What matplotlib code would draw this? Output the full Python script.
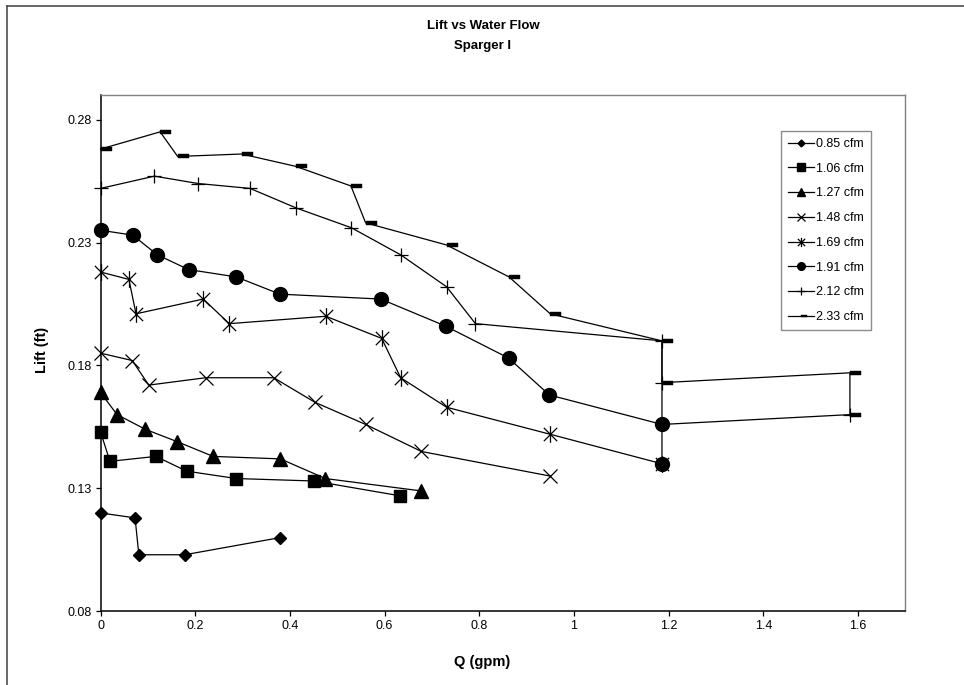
import matplotlib
matplotlib.use("Agg")
import matplotlib.pyplot as plt
from matplotlib.path import Path
from matplotlib.lines import Line2D
import numpy as np

plt.rcParams['font.family'] = ['Liberation Sans', 'DejaVu Sans']

# ---- data ----
q_085 = [0, 0.073, 0.081, 0.178, 0.380]
lift_085 = [0.120, 0.118, 0.103, 0.103, 0.110]

q_106 = [0, 0.020, 0.117, 0.182, 0.287, 0.451, 0.632]
lift_106 = [0.153, 0.141, 0.143, 0.137, 0.134, 0.133, 0.127]

q_127 = [0, 0.035, 0.095, 0.162, 0.238, 0.380, 0.475, 0.676]
lift_127 = [0.169, 0.160, 0.154, 0.149, 0.143, 0.142, 0.134, 0.129]

q_148 = [0, 0.067, 0.102, 0.222, 0.366, 0.453, 0.560, 0.678, 0.950]
lift_148 = [0.185, 0.182, 0.172, 0.175, 0.175, 0.165, 0.156, 0.145, 0.135]

q_169 = [0, 0.060, 0.075, 0.217, 0.272, 0.476, 0.594, 0.634, 0.731, 0.950, 1.186]
lift_169 = [0.218, 0.215, 0.201, 0.207, 0.197, 0.200, 0.191, 0.175, 0.163, 0.152, 0.140]

q_191 = [0, 0.068, 0.120, 0.186, 0.287, 0.379, 0.592, 0.729, 0.862, 0.948, 1.186, 1.186]
lift_191 = [0.235, 0.233, 0.225, 0.219, 0.216, 0.209, 0.207, 0.196, 0.183, 0.168, 0.156, 0.140]

q_212 = [0, 0.114, 0.206, 0.316, 0.414, 0.530, 0.634, 0.731, 0.792, 1.186, 1.186, 1.186, 1.583]
lift_212 = [0.252, 0.257, 0.254, 0.252, 0.244, 0.236, 0.225, 0.212, 0.197, 0.190, 0.173, 0.156, 0.160]

q_233 = [0, 0.126, 0.163, 0.298, 0.412, 0.529, 0.560, 0.731, 0.863, 0.950, 1.186, 1.186, 1.583, 1.583]
lift_233 = [0.268, 0.275, 0.265, 0.266, 0.261, 0.253, 0.238, 0.229, 0.216, 0.201, 0.190, 0.173, 0.177, 0.160]

labels = ['0.85 cfm', '1.06 cfm', '1.27 cfm', '1.48 cfm', '1.69 cfm', '1.91 cfm', '2.12 cfm', '2.33 cfm']
x_ticks = [0, 0.2, 0.4, 0.6, 0.8, 1.0, 1.2, 1.4, 1.6]
x_tick_labels = ['0', '0.2', '0.4', '0.6', '0.8', '1', '1.2', '1.4', '1.6']
y_ticks = [0.08, 0.13, 0.18, 0.23, 0.28]
y_tick_labels = ['0.08', '0.13', '0.18', '0.23', '0.28']

# ---- custom markers ----
asterisk = Path([(-1, -1), (1, 1), (-1, 1), (1, -1), (0, -1.25), (0, 1.25)],
                [Path.MOVETO, Path.LINETO, Path.MOVETO, Path.LINETO, Path.MOVETO, Path.LINETO])
dash = Path([(0, -0.15), (1, -0.15), (1, 0.15), (0, 0.15), (0, -0.15)],
            [Path.MOVETO, Path.LINETO, Path.LINETO, Path.LINETO, Path.CLOSEPOLY])

fig = plt.figure(figsize=(9.64, 6.85), dpi=100)
ax = fig.add_axes([100.5/964, 1-611.3/685, (905.3-100.5)/964, (611.3-95)/685])

lw = 0.9
series = [
    (q_085, lift_085, dict(marker='D', ms=6.3)),
    (q_106, lift_106, dict(marker='s', ms=9.3)),
    (q_127, lift_127, dict(marker='^', ms=9.5)),
    (q_148, lift_148, dict(marker='x', ms=10, mew=0.9)),
    (q_169, lift_169, dict(marker=asterisk, ms=12, mew=0.9, mfc='none')),
    (q_191, lift_191, dict(marker='o', ms=10)),
    (q_212, lift_212, dict(marker='+', ms=10, mew=0.9)),
    (q_233, lift_233, dict(marker=dash, ms=15.4, mew=0.3)),
]
handles = []
for (q, l, st), lab in zip(series, labels):
    h, = ax.plot(q, l, color='black', lw=lw, mec='black',
                 mfc=st.pop('mfc', 'black'), label=lab, clip_on=False, **st)
    handles.append(h)

ax.set_xlim(0, 1.7)
ax.set_ylim(0.08, 0.29)
ax.set_xticks(x_ticks)
ax.set_xticklabels(x_tick_labels)
ax.set_yticks(y_ticks)
ax.set_yticklabels(y_tick_labels)
ax.tick_params(direction='out', length=3.5, width=0.9, labelsize=9, colors='black', pad=3)
for s in ['left', 'bottom']:
    ax.spines[s].set_color('black')
    ax.spines[s].set_linewidth(1.1)
for s in ['top', 'right']:
    ax.spines[s].set_color('#808080')
    ax.spines[s].set_linewidth(1.0)

leg = ax.legend(handles=handles, loc='upper left',
                bbox_to_anchor=(781/964, 1-131/685), bbox_transform=fig.transFigure,
                fontsize=9, frameon=True, fancybox=False, edgecolor='#707070',
                markerscale=0.55, handlelength=2.1, handletextpad=0.15,
                labelspacing=1.02, borderpad=0.55, borderaxespad=0)
leg.get_frame().set_linewidth(1.0)

fig.text(483/964, 1-26/685, 'Lift vs Water Flow', ha='center', va='center',
         fontsize=9.5, fontweight='bold')
fig.text(483/964, 1-46/685, 'Sparger I', ha='center', va='center',
         fontsize=9.5, fontweight='bold')
fig.text(482/964, 1-662/685, 'Q (gpm)', ha='center', va='center',
         fontsize=10.5, fontweight='bold')
fig.text(42/964, 1-350/685, 'Lift (ft)', ha='center', va='center',
         fontsize=10.5, fontweight='bold', rotation=90)

# outer chart-area border (left and top edges visible)
fig.add_artist(Line2D([7/964, 7/964], [0, 1-6/685], transform=fig.transFigure,
                      color='#404040', lw=1.1))
fig.add_artist(Line2D([7/964, 1], [1-6/685, 1-6/685], transform=fig.transFigure,
                      color='#404040', lw=1.1))

fig.savefig('out.png', dpi=100)
